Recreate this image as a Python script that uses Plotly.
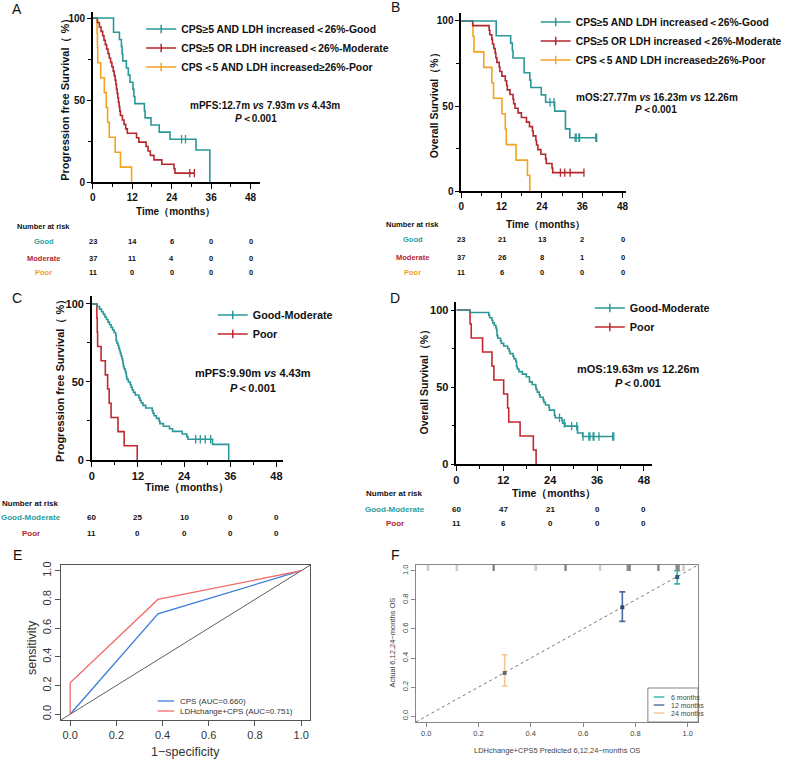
import plotly.graph_objects as go

W, H = 787, 759
FONT = "Liberation Sans, Arial, sans-serif"
TEAL = "#2a9898"
RED = "#b3272d"
ORANGE = "#f4a21f"
RED2 = "#c1282e"
BLUE = "#3b7dd8"
SALMON = "#f26b6b"
INK = "#111111"

# ---------------- data ----------------
months = [0, 12, 24, 36, 48]

# PFS (months)
pfs_good_events = [6.3, 6.3, 8.1, 8.7, 8.9, 9.1, 10.2, 10.8, 11.3, 12.2, 12.5, 12.8,
                   15.7, 15.9, 17.7, 20.2, 23.5, 31.4, 35.6, 35.6, 35.6]
pfs_good_censor = [27.0, 28.2]
pfs_mod_events = [1.4, 2.0, 2.5, 3.0, 3.4, 3.8, 4.2, 4.6, 5.0, 5.4, 5.8, 6.2, 6.5,
                  6.8, 7.0, 7.2, 7.4, 7.6, 7.8, 8.0, 8.2, 8.4, 9.0, 9.5, 10.0, 10.5,
                  13.3, 14.0, 16.2, 16.8, 17.5, 18.6, 21.0, 24.7, 25.0]
pfs_mod_censor = [29.5, 30.9]
pfs_poor_events = [1.3, 1.4, 1.5, 2.4, 3.5, 4.1, 4.5, 5.0, 6.8, 8.4, 11.8]
pfs_poor_censor = []

# OS (months)
os_good_events = [10.4, 10.4, 14.7, 15.2, 15.4, 18.7, 18.7, 20.4, 20.7, 23.8, 25.1,
                  27.8, 31.0, 31.0, 32.3]
os_good_censor = [26.4, 27.6, 33.9, 34.2, 35.0, 35.2, 40.0, 40.3]
os_mod_events = [3.4, 8.3, 8.5, 9.1, 9.3, 9.7, 10.1, 10.3, 10.6, 11.3, 11.5, 12.1,
                 13.1, 13.5, 13.7, 14.5, 15.4, 15.6, 16.0, 16.9, 17.9, 19.4, 20.3,
                 21.2, 21.4, 22.2, 22.4, 22.8, 23.7, 25.1, 25.3, 27.0, 27.2]
os_mod_censor = [29.5, 30.8, 32.4, 36.5]
os_poor_events = [3.5, 3.8, 6.7, 9.1, 9.6, 12.1, 13.1, 13.4, 16.3, 19.7, 20.4]
os_poor_censor = []

# Number at risk tables
risk_A_good = [23, 14, 6, 0, 0]
risk_A_mod = [37, 11, 4, 0, 0]
risk_A_poor = [11, 0, 0, 0, 0]
risk_B_good = [23, 21, 13, 2, 0]
risk_B_mod = [37, 26, 8, 1, 0]
risk_B_poor = [11, 6, 0, 0, 0]
risk_C_gm = [60, 25, 10, 0, 0]
risk_C_poor = [11, 0, 0, 0, 0]
risk_D_gm = [60, 47, 21, 0, 0]
risk_D_poor = [11, 6, 0, 0, 0]

# ROC (panel E)
roc_cps_fpr = [0.0, 0.38, 1.0]
roc_cps_tpr = [0.0, 0.70, 1.0]
roc_comb_fpr = [0.0, 0.0, 0.38, 1.0]
roc_comb_tpr = [0.0, 0.22, 0.80, 1.0]
roc_ticks = [0.0, 0.2, 0.4, 0.6, 0.8, 1.0]

# Calibration (panel F)
cal_labels = ["6 months", "12 months", "24 months"]
cal_pred = [0.960, 0.750, 0.300]
cal_obs = [0.958, 0.750, 0.297]
cal_lo = [0.910, 0.652, 0.208]
cal_hi = [1.000, 0.855, 0.423]
rug_dark = [0.258, 0.533, 0.771, 0.778, 0.888, 0.958, 0.965]
rug_light = [0.007, 0.117, 0.419, 0.665, 0.984]

# ---------------- helpers ----------------
def px(x):
    return x / W


def py(y):
    return 1 - y / H


def km(events, censors):
    times = sorted(set(events) | set(censors))
    at_risk = len(events) + len(censors)
    s = 100.0
    xs, ys, cx, cy = [0.0], [100.0], [], []
    for t in times:
        d = events.count(t)
        c = censors.count(t)
        if d:
            s = s * (1 - d / at_risk)
            xs.append(t)
            ys.append(s)
        if c:
            cx.append(t)
            cy.append(s)
        at_risk -= d + c
    if xs[-1] != times[-1]:
        xs.append(times[-1])
        ys.append(s)
    return xs, ys, cx, cy


fig = go.Figure()
annotations = []
shapes = []


def add_km(events, censors, color, xa, ya):
    xs, ys, cx, cy = km(events, censors)
    fig.add_trace(go.Scatter(x=xs, y=ys, mode="lines", line=dict(color=color, width=1.6, shape="hv"),
                             xaxis=xa, yaxis=ya, showlegend=False, hoverinfo="skip"))
    if cx:
        fig.add_trace(go.Scatter(x=cx, y=cy, mode="markers",
                                 marker=dict(symbol="line-ns-open", size=6, color=color,
                                             line=dict(color=color, width=1.3)),
                                 xaxis=xa, yaxis=ya, showlegend=False, hoverinfo="skip"))


def add_legend_entry(name, color, legend, xa, ya):
    fig.add_trace(go.Scatter(x=[None], y=[None], mode="lines+markers", name=name,
                             line=dict(color=color, width=1.6),
                             marker=dict(symbol="line-ns-open", size=6, color=color,
                                         line=dict(color=color, width=1.5)),
                             xaxis=xa, yaxis=ya, legend=legend, showlegend=True))


def ann(text, x, y, size, color=INK, xanchor="center", angle=0, xref="paper", weight="bold"):
    annotations.append(dict(text=text, x=(px(x) if xref == "paper" else x), y=py(y),
                            xref=xref, yref="paper", xanchor=xanchor, yanchor="middle",
                            showarrow=False, textangle=angle,
                            font=dict(family=FONT, size=size, color=color, weight=weight)))


# ---------------- panel A/B/C/D (KM) ----------------
add_km(pfs_poor_events, pfs_poor_censor, ORANGE, "x", "y")
add_km(pfs_mod_events, pfs_mod_censor, RED, "x", "y")
add_km(pfs_good_events, pfs_good_censor, TEAL, "x", "y")
add_legend_entry("CPS≥5 AND LDH increased＜26%-Good", TEAL, "legend", "x", "y")
add_legend_entry("CPS≥5 OR LDH increased＜26%-Moderate", RED, "legend", "x", "y")
add_legend_entry("CPS＜5 AND LDH increased≥26%-Poor", ORANGE, "legend", "x", "y")

add_km(os_poor_events, os_poor_censor, ORANGE, "x2", "y2")
add_km(os_mod_events, os_mod_censor, RED, "x2", "y2")
add_km(os_good_events, os_good_censor, TEAL, "x2", "y2")
add_legend_entry("CPS≥5 AND LDH increased＜26%-Good", TEAL, "legend2", "x2", "y2")
add_legend_entry("CPS≥5 OR LDH increased＜26%-Moderate", RED, "legend2", "x2", "y2")
add_legend_entry("CPS＜5 AND LDH increased≥26%-Poor", ORANGE, "legend2", "x2", "y2")

add_km(pfs_poor_events, pfs_poor_censor, RED2, "x3", "y3")
add_km(pfs_good_events + pfs_mod_events, pfs_good_censor + pfs_mod_censor, TEAL, "x3", "y3")
add_legend_entry("Good-Moderate", TEAL, "legend3", "x3", "y3")
add_legend_entry("Poor", RED2, "legend3", "x3", "y3")

add_km(os_poor_events, os_poor_censor, RED2, "x4", "y4")
add_km(os_good_events + os_mod_events, os_good_censor + os_mod_censor, TEAL, "x4", "y4")
add_legend_entry("Good-Moderate", TEAL, "legend4", "x4", "y4")
add_legend_entry("Poor", RED2, "legend4", "x4", "y4")


def km_axes(xpx, ypx, xmax, ymax, anchor_y, anchor_x, tsize):
    tf = dict(family=FONT, size=tsize, color=INK, weight="bold")
    xa = dict(domain=[px(xpx[0]), px(xpx[1])], range=[0, xmax], anchor=anchor_y,
              showline=True, linecolor="black", linewidth=1.5, ticks="outside", ticklen=5,
              tickwidth=1.3, tickcolor="black", tick0=0, dtick=12, showgrid=False, zeroline=False,
              tickfont=tf, minor=dict(dtick=6, tick0=0, ticks="outside", ticklen=3, tickwidth=1.1,
                                      tickcolor="black", showgrid=False))
    ya = dict(domain=[py(ypx[1]), py(ypx[0])], range=[0, ymax], anchor=anchor_x,
              showline=True, linecolor="black", linewidth=1.5, ticks="outside", ticklen=4,
              tickwidth=1.3, tickcolor="black", tick0=0, dtick=50, showgrid=False, zeroline=False,
              tickfont=tf, minor=dict(dtick=25, tick0=0, ticks="outside", ticklen=3, tickwidth=1.1,
                                      tickcolor="black", showgrid=False))
    return xa, ya


xA, yA = km_axes((96, 269), (12, 182), 50.9, 103.7, "y", "x", 10)
xB, yB = km_axes((477, 647), (13, 191), 48.9, 104.7, "y2", "x2", 10)
xC, yC = km_axes((95, 293), (296, 460), 49.8, 105.1, "y3", "x3", 11)
xD, yD = km_axes((472, 674), (302, 464), 50.0, 105.2, "y4", "x4", 11)

# texts for KM panels
ann("A", 18, 9, 14, weight="normal")
ann("B", 409, 7, 14, weight="normal")
ann("C", 18, 298, 14, weight="normal")
ann("D", 409, 298, 14, weight="normal")

ann("<b>Progression free Survival（ %）</b>", 67, 97, 11, angle=-90)
ann("<b>Overall Survival（%）</b>", 450, 103, 10.5, angle=-90)
ann("<b>Progression free Survival（ %）</b>", 62, 378, 11, angle=-90)
ann("<b>Overall Survival（%）</b>", 438, 379, 10.5, angle=-90)

ann("<b>Time（months）</b>", 182, 211, 10)
ann("<b>Time（months）</b>", 564, 224, 10)
ann("<b>Time（months）</b>", 193, 487, 10.5)
ann("<b>Time（months）</b>", 573, 493, 10.5)

ann("<b>mPFS:12.7m <i>vs</i> 7.93m <i>vs</i> 4.43m</b>", 274, 106, 10)
ann("<b><i>P</i>＜0.001</b>", 265, 118, 10)
ann("<b>mOS:27.77m <i>vs</i> 16.23m <i>vs</i> 12.26m</b>", 679, 97, 10)
ann("<b><i>P</i>＜0.001</b>", 678, 110, 10)
ann("<b>mPFS:9.90m <i>vs</i> 4.43m</b>", 262, 373, 11)
ann("<b><i>P</i>＜0.001</b>", 262, 388, 11)
ann("<b>mOS:19.63m <i>vs</i> 12.26m</b>", 660, 369, 11)
ann("<b><i>P</i>＜0.001</b>", 660, 383, 11)

# risk tables
GOODC, MODC, POORC = "#2a9d9d", "#b5262e", "#f0a02a"


def risk_table(title_xy, rows, xref, size):
    ann("<b>Number at risk</b>", title_xy[0], title_xy[1], size)
    for label, color, lx, ly, vals in rows:
        ann("<b>%s</b>" % label, lx, ly, size, color=color)
        for m, v in zip(months, vals):
            annotations.append(dict(text="<b>%d</b>" % v, x=m, y=py(ly), xref=xref, yref="paper",
                                    xanchor="center", yanchor="middle", showarrow=False,
                                    font=dict(family=FONT, size=size, color=INK)))


risk_table((45, 226), [("Good", GOODC, 45, 242, risk_A_good),
                       ("Moderate", MODC, 45, 258, risk_A_mod),
                       ("Poor", POORC, 45, 273, risk_A_poor)], "x", 7.5)
risk_table((427, 224), [("Good", GOODC, 427, 240, risk_B_good),
                        ("Moderate", MODC, 427, 257, risk_B_mod),
                        ("Poor", POORC, 427, 272, risk_B_poor)], "x2", 7.5)
risk_table((32, 503), [("Good-Moderate", GOODC, 32, 517, risk_C_gm),
                       ("Poor", MODC, 32, 533, risk_C_poor)], "x3", 8)
risk_table((408, 493), [("Good-Moderate", GOODC, 408, 509, risk_D_gm),
                        ("Poor", MODC, 408, 523, risk_D_poor)], "x4", 8)

# ---------------- panel E (ROC) ----------------
fig.add_trace(go.Scatter(x=roc_cps_fpr, y=roc_cps_tpr, mode="lines", line=dict(color=BLUE, width=1.3),
                         xaxis="x5", yaxis="y5", showlegend=False, hoverinfo="skip"))
fig.add_trace(go.Scatter(x=roc_comb_fpr, y=roc_comb_tpr, mode="lines", line=dict(color=SALMON, width=1.3),
                         xaxis="x5", yaxis="y5", showlegend=False, hoverinfo="skip"))
shapes.append(dict(type="line", xref="x5", yref="y5", x0=-0.04, y0=-0.04, x1=1.04, y1=1.04,
                   line=dict(color="#333", width=0.8), layer="below"))

rfont = dict(family=FONT, size=11, color="#333")
xE = dict(domain=[px(63), px(321)], range=[-0.04, 1.04], anchor="y5", showline=True, mirror=True,
          linecolor="#555", linewidth=1, ticks="outside", ticklen=5, tickcolor="#555",
          tickvals=roc_ticks, ticktext=["%.1f" % v for v in roc_ticks], showgrid=False, zeroline=False,
          tickfont=rfont)
yE = dict(domain=[py(720), py(565)], range=[-0.04, 1.04], anchor="x5", showline=True, mirror=True,
          linecolor="#555", linewidth=1, ticks="outside", ticklen=5, tickcolor="#555",
          tickvals=roc_ticks, ticktext=["%.1f" % v for v in roc_ticks], tickangle=-90,
          showgrid=False, zeroline=False, tickfont=rfont)
ann("E", 18, 555, 14, weight="normal")
ann("1−specificity", 192, 752, 12.5, color="#333", weight="normal")
ann("sensitivity", 33, 647, 12.5, color="#333", angle=-90, weight="normal")
for col, lab, yy in [(BLUE, "CPS (AUC=0.660)", 701), (SALMON, "LDHchange+CPS (AUC=0.751)", 711)]:
    shapes.append(dict(type="line", xref="paper", yref="paper", x0=px(163), x1=px(180),
                       y0=py(yy), y1=py(yy), line=dict(color=col, width=1.3)))
    ann(lab, 184, yy, 8, color="#333", xanchor="left", weight="normal")

# ---------------- panel F (calibration) ----------------
CAL_COLORS = ["#36b3ad", "#4c6c9e", "#f7c592"]
CAL_MARK = ["#2d5d8c", "#2c4a7c", "#6b6b6b"]
shapes.append(dict(type="line", xref="x6", yref="y6", x0=-0.04, y0=-0.04, x1=1.04, y1=1.04,
                   line=dict(color="#777", width=1, dash="dot"), layer="below"))
for i in range(3):
    fig.add_trace(go.Scatter(x=[cal_pred[i]], y=[cal_obs[i]], mode="markers",
                             marker=dict(symbol="square", size=4, color=CAL_MARK[i]),
                             error_y=dict(type="data", symmetric=False,
                                          array=[cal_hi[i] - cal_obs[i]],
                                          arrayminus=[cal_obs[i] - cal_lo[i]],
                                          color=CAL_COLORS[i], thickness=1.6, width=3),
                             xaxis="x6", yaxis="y6", showlegend=False, hoverinfo="skip"))
fig.add_trace(go.Scatter(x=rug_light, y=[1.027] * len(rug_light), mode="markers",
                         marker=dict(symbol="line-ns-open", size=6, color="#cccccc",
                                     line=dict(color="#cccccc", width=2.5)),
                         xaxis="x6", yaxis="y6", showlegend=False, hoverinfo="skip"))
fig.add_trace(go.Scatter(x=rug_dark, y=[1.027] * len(rug_dark), mode="markers",
                         marker=dict(symbol="line-ns-open", size=6, color="#8a8a8a",
                                     line=dict(color="#8a8a8a", width=2.5)),
                         xaxis="x6", yaxis="y6", showlegend=False, hoverinfo="skip"))
ffont = dict(family=FONT, size=7.5, color="#444")
xF = dict(domain=[px(430), px(722)], range=[-0.04, 1.04], anchor="y6", showline=True, mirror=True,
          linecolor="#888", linewidth=1, ticks="outside", ticklen=4, tickcolor="#888",
          tickvals=roc_ticks, ticktext=["%.1f" % v for v in roc_ticks], showgrid=False, zeroline=False,
          tickfont=ffont)
yF = dict(domain=[py(722), py(565)], range=[-0.04, 1.04], anchor="x6", showline=True, mirror=True,
          linecolor="#888", linewidth=1, ticks="outside", ticklen=4, tickcolor="#888",
          tickvals=roc_ticks, ticktext=["%.1f" % v for v in roc_ticks], tickangle=-90,
          showgrid=False, zeroline=False, tickfont=ffont)
ann("F", 409, 555, 14, weight="normal")
ann("LDHchange+CPS5 Predicted 6,12,24−months OS", 576, 750, 7.5, color="#444", weight="normal")
ann("Actual 6,12,24−months OS", 405, 643, 7.5, color="#444", angle=-90, weight="normal")
shapes.append(dict(type="rect", xref="paper", yref="paper", x0=px(670), x1=px(722), y0=py(722), y1=py(688),
                   line=dict(color="#666", width=0.8), fillcolor="white"))
for i, yy in enumerate([697, 705, 713]):
    shapes.append(dict(type="line", xref="paper", yref="paper", x0=px(676), x1=px(687),
                       y0=py(yy), y1=py(yy), line=dict(color=CAL_COLORS[i], width=1.4)))
    ann(cal_labels[i], 692, yy, 7, color="#444", xanchor="left", weight="normal")

# ---------------- layout ----------------
def leg(xpx, ypx_top, size):
    return dict(x=px(xpx), y=py(ypx_top), xanchor="left", yanchor="top", bgcolor="rgba(0,0,0,0)",
                borderwidth=0, itemwidth=30, tracegroupgap=0, itemclick=False, itemdoubleclick=False,
                font=dict(family=FONT, size=size, color=INK, weight="bold"))


fig.update_layout(
    template="none",
    width=W, height=H, margin=dict(l=0, r=0, t=0, b=0),
    paper_bgcolor="white", plot_bgcolor="white",
    xaxis=xA, yaxis=yA, xaxis2=xB, yaxis2=yB, xaxis3=xC, yaxis3=yC, xaxis4=xD, yaxis4=yD,
    xaxis5=xE, yaxis5=yE, xaxis6=xF, yaxis6=yF,
    legend=leg(146, 14.5, 10.4), legend2=leg(554, 7.5, 10.3),
    legend3=leg(220, 300.5, 10.8), legend4=leg(610, 293.5, 10.8),
    annotations=annotations, shapes=shapes,
)

fig.write_html("out.html")
